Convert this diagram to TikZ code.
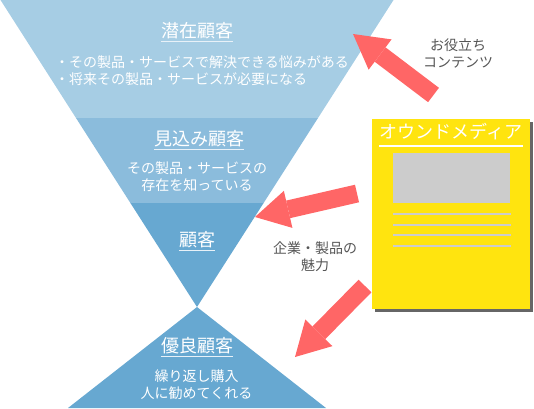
\documentclass[tikz,border=0pt]{standalone}
\usepackage{fontspec}
\setmainfont{Noto Sans CJK JP}
\usetikzlibrary{arrows.meta,shadows}

\definecolor{bandtop}{HTML}{A6CDE4}
\definecolor{bandmid}{HTML}{8BBCDC}
\definecolor{bandlow}{HTML}{67A8D1}
\definecolor{pushred}{HTML}{FF6666}
\definecolor{mediayellow}{HTML}{FFE40F}
\definecolor{photogray}{HTML}{CCCCCC}
\definecolor{cuegray}{HTML}{555555}

\begin{document}
\begin{tikzpicture}[
  x=1pt,y=-1pt,
  title/.style={text=white,inner sep=0pt,font=\fontsize{18}{20}\selectfont},
  note/.style={text=white,align=center,inner sep=0pt,font=\fontsize{14}{17}\selectfont},
  cue/.style={text=cuegray,align=center,inner sep=0pt,font=\fontsize{14}{17}\selectfont},
  uline/.style={white!80!bandmid,line width=1.5pt},
  push/.style={line width=18pt,pushred,-{Triangle[width=38pt,length=34pt,line width=0pt]}},
  mediabox/.style={fill=mediayellow,minimum width=158pt,minimum height=190pt,inner sep=0pt,
    drop shadow={shadow xshift=3pt,shadow yshift=-3pt,fill=black!60,opacity=1}},
  textline/.style={photogray,line width=2pt}
]
  \useasboundingbox (0,0) rectangle (534,408);

  % funnel
  \fill[bandtop] (0.5,0) -- (393.5,0) -- (318,118) -- (76,118) -- cycle;
  \fill[bandmid] (76,118) -- (318,118) -- (263.6,203) -- (130.4,203) -- cycle;
  \fill[bandlow] (130.4,203) -- (263.6,203) -- (197,307) -- cycle;
  \fill[bandlow] (197,307) -- (326,408) -- (68,408) -- cycle;

  \node[title] (latent) at (197,31) {潜在顧客};
  \draw[uline] ([yshift=-2pt]latent.south west) -- ([yshift=-2pt]latent.south east);
  \node[note,align=left] (latentnote) at (202,70.5)
    {・その製品・サービスで解決できる悩みがある\\・将来その製品・サービスが必要になる};

  \node[title] (prospect) at (199,139) {見込み顧客};
  \draw[uline] ([yshift=-2pt]prospect.south west) -- ([yshift=-2pt]prospect.south east);
  \node[note] (prospectnote) at (197,176.5) {その製品・サービスの\\存在を知っている};

  \node[title] (client) at (197,240) {顧客};
  \draw[uline] ([yshift=-2pt]client.south west) -- ([yshift=-2pt]client.south east);

  \node[title] (loyal) at (197,346) {優良顧客};
  \draw[uline] ([yshift=-2pt]loyal.south west) -- ([yshift=-2pt]loyal.south east);
  \node[note] (loyalnote) at (196.5,384.5) {繰り返し購入\\人に勧めてくれる};

  % owned media
  \node[mediabox] (media) at (451,214) {};
  \node[title] (mediatitle) at (451,132) {オウンドメディア};
  \draw[white,line width=1.5pt] (379,146) -- (523,146);
  \node[fill=photogray,minimum width=117pt,minimum height=50pt,inner sep=0pt] (photo) at (451.5,178) {};
  \foreach \y in {214,224.5,235,245.5}
    \draw[textline] (393,\y) -- (511,\y);

  % arrows
  \coordinate (upfrom) at (433.5,95);
  \coordinate (upto) at (353,34);
  \coordinate (midfrom) at (357,193.5);
  \coordinate (midto) at (255,217);
  \coordinate (lowfrom) at (365,286);
  \coordinate (lowto) at (295,357);
  \draw[push] (upfrom) -- (upto);
  \draw[push] (midfrom) -- (midto);
  \draw[push] (lowfrom) -- (lowto);

  \node[cue] (usefulcue) at (458,53.5) {お役立ち\\コンテンツ};
  \node[cue] (appealcue) at (315,256.5) {企業・製品の\\魅力};
\end{tikzpicture}
\end{document}
